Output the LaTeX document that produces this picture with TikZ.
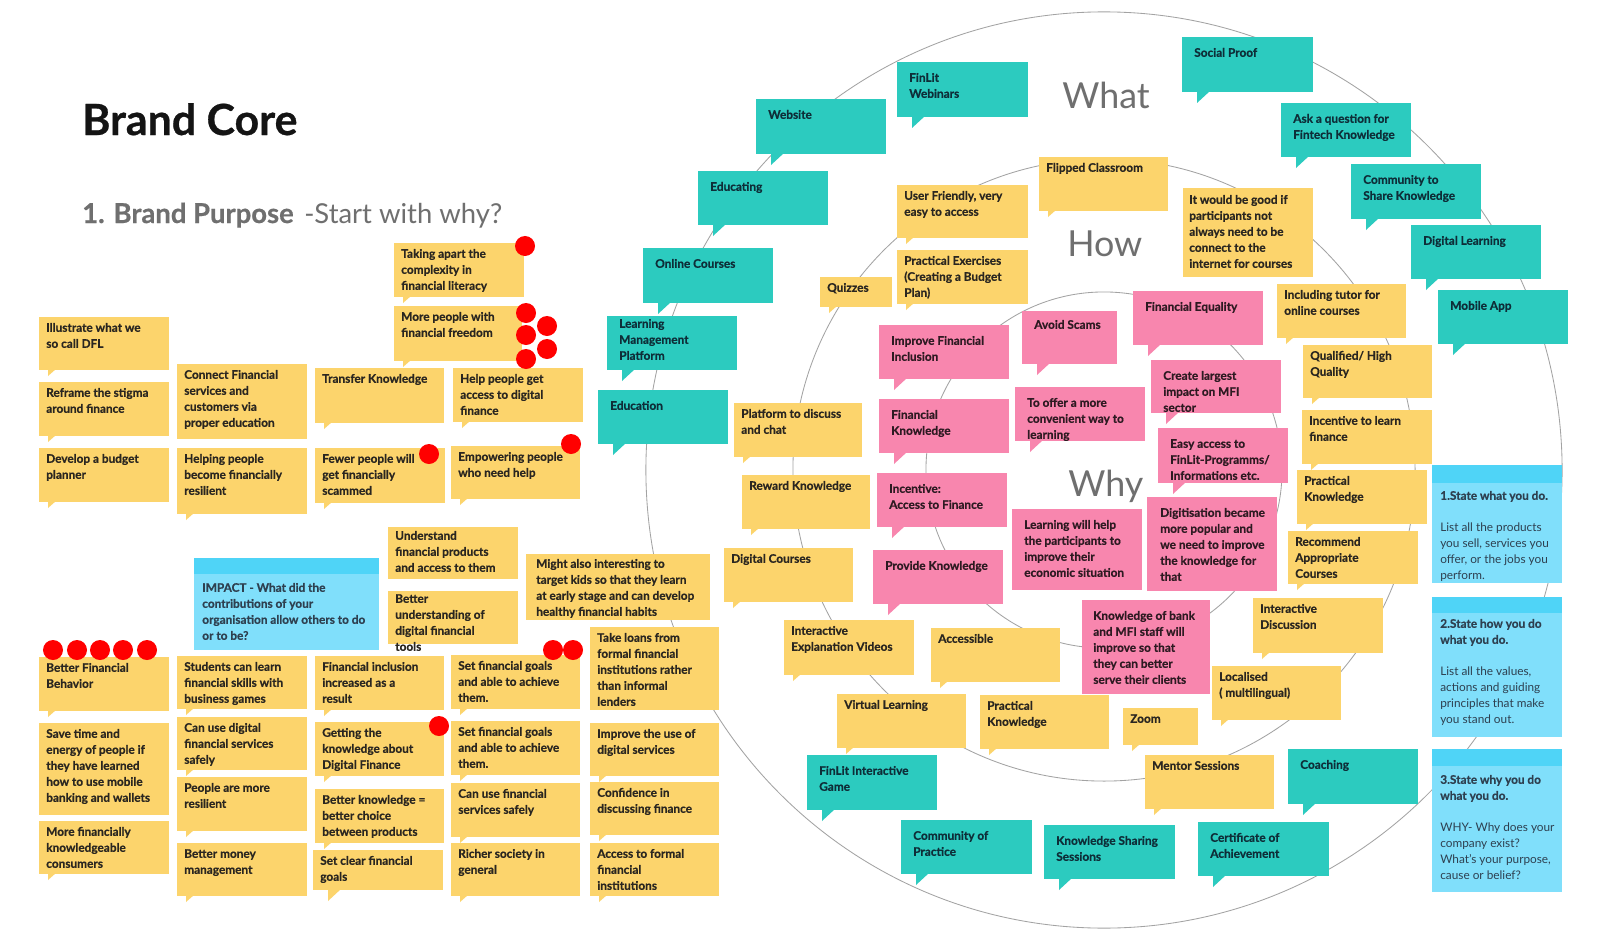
\documentclass[tikz,border=0pt]{standalone}
\usepackage{fontspec}
\setmainfont{Lato}[BoldFeatures={FakeBold=0.6}]
\definecolor{yel}{HTML}{FCD46C}
\definecolor{tea}{HTML}{2CCBBF}
\definecolor{pnk}{HTML}{F886AE}
\definecolor{yelink}{HTML}{2A2620}
\definecolor{teaink}{HTML}{0E2E38}
\definecolor{pnkink}{HTML}{2E1A22}
\definecolor{blu}{HTML}{80DFFB}
\definecolor{blustrip}{HTML}{4FD4F7}
\definecolor{bluink}{HTML}{2E4050}
\definecolor{dotred}{HTML}{FF0000}
\definecolor{ring}{HTML}{A3A3A3}
\definecolor{headgray}{HTML}{6F6F6F}

\newcommand{\notebody}[9]{%
  \node[notebox, fill=#6, minimum width=#4*0.025cm, minimum height=#5*0.025cm] (#1) at (#2,#3) {};
  \node[notetext, text=#6ink] (#1-t) at (#2+#7,#3+#8-2.75) {\rule{0pt}{8pt}#9};}
\newcommand{\snote}[9]{\notebody{#1}{#2}{#3}{#4}{#5}{#6}{#7}{#8}{#9}%
  \fill[#6] (#2+9,#3+#5-1) -- (#2+9,#3+#5+6) -- (#2+17,#3+#5-1) -- cycle;}
\newcommand{\bnote}[9]{\notebody{#1}{#2}{#3}{#4}{#5}{#6}{#7}{#8}{#9}%
  \fill[#6] (#2+15,#3+#5-1) -- (#2+15,#3+#5+11) -- (#2+28,#3+#5-1) -- cycle;}
\newcommand{\nnote}[9]{\notebody{#1}{#2}{#3}{#4}{#5}{#6}{#7}{#8}{#9}}
\newcommand{\bluecard}[8]{% name x y w h strip captop text
  \node[notebox, fill=blu, minimum width=#4*0.025cm, minimum height=#5*0.025cm] (#1) at (#2,#3) {};
  \fill[blustrip] (#2,#3) rectangle (#2+#4,#3+#6);
  \node[notetext, font=\fontsize{8.4pt}{11.38pt}\selectfont, text=bluink] (#1-t) at (#2+8,#3+#7-2.75) {\rule{0pt}{8pt}#8};}

\begin{document}
\begin{tikzpicture}[x=0.025cm,y=-0.025cm,
  notebox/.style={anchor=north west, inner sep=0pt, outer sep=0pt, draw=none},
  notetext/.style={anchor=north west, inner sep=0pt, align=left, font=\fontsize{8.4pt}{11.38pt}\selectfont\bfseries},
  ringline/.style={draw=ring, line width=0.6pt},
  big/.style={anchor=base west, inner sep=0pt},
  dot/.style={fill=dotred}]
\fill[white] (0,0) rectangle (1600,933);
\useasboundingbox (0,0) rectangle (1600,933);

% titles
\node[big, font=\fontsize{30.5pt}{36pt}\selectfont\bfseries, text=black!92] (title) at (82,135) {Brand Core};
\node[big, font=\fontsize{19.5pt}{23pt}\selectfont\bfseries, text=headgray] (purpose) at (82,223) {1. Brand Purpose};
\node[big, font=\fontsize{19.5pt}{23pt}\selectfont, text=headgray] (startwhy) at (304,223) {-Start with why?};

% rings
\coordinate (centre) at (1104,470);
\draw[ringline] (centre) circle[radius=11.45cm];
\draw[ringline] (centre) circle[radius=7.775cm];
\draw[ringline] (centre) circle[radius=4.45cm];

\node[big, font=\fontsize{25.5pt}{30pt}\selectfont, text=headgray] (what) at (1062,109) {What};
\node[big, font=\fontsize{25.5pt}{30pt}\selectfont, text=headgray] (how) at (1067,256) {How};
\node[big, font=\fontsize{25.5pt}{30pt}\selectfont, text=headgray] (why) at (1068,496) {Why};

% ---------- left block (purpose) ----------
\snote{taking}{394}{243}{130}{54}{yel}{7}{6}{Taking apart the\\complexity in\\financial literacy}
\snote{freedom}{394}{306}{128}{55}{yel}{7}{6}{More people with\\financial freedom}
\snote{illustrate}{39}{317}{130}{53}{yel}{7}{6}{Illustrate what we\\so call DFL}
\snote{reframe}{39}{382}{130}{54}{yel}{7}{6}{Reframe the stigma\\around finance}
\snote{budget}{39}{448}{130}{54}{yel}{7}{6}{Develop a budget\\planner}
\nnote{connect}{177}{364}{130}{75}{yel}{7}{6}{Connect Financial\\services and\\customers via\\proper education}
\snote{resilient}{177}{448}{130}{66}{yel}{7}{6}{Helping people\\become financially\\resilient}
\snote{transfer}{315}{368}{129}{55}{yel}{7}{6}{Transfer Knowledge}
\snote{scammed}{315}{448}{130}{55}{yel}{7}{6}{Fewer people will\\get financially\\scammed}
\snote{helpaccess}{453}{368}{130}{54}{yel}{7}{6}{Help people get\\access to digital\\finance}
\snote{empower}{451}{446}{129}{53}{yel}{7}{6}{Empowering people\\who need help}
\bluecard{impact}{194}{558}{185}{92}{16}{25}{\textbf{IMPACT - What did the}\\\textbf{contributions of your}\\\textbf{organisation allow others to do}\\\textbf{or to be?}}
\nnote{understand}{388}{527}{130}{52}{yel}{7}{4}{Understand\\financial products\\and access to them}
\nnote{betterund}{388}{591}{130}{53}{yel}{7}{3}{Better\\understanding of\\digital financial\\tools}
\nnote{kids}{526}{554}{184}{66}{yel}{10}{5}{Might also interesting to\\target kids so that they learn\\at early stage and can develop\\healthy financial habits}

% ---------- lower block (impact) ----------
\snote{behavior}{39}{657}{130}{54}{yel}{7}{6}{Better Financial\\Behavior}
\nnote{savetime}{39}{723}{130}{92}{yel}{7}{6}{Save time and\\energy of people if\\they have learned\\how to use mobile\\banking and wallets}
\snote{knowledgeable}{39}{821}{130}{53}{yel}{7}{6}{More financially\\knowledgeable\\consumers}
\snote{students}{177}{656}{130}{53}{yel}{7}{6}{Students can learn\\financial skills with\\business games}
\snote{digsafe}{177}{717}{130}{53}{yel}{7}{6}{Can use digital\\financial services\\safely}
\snote{moreres}{177}{777}{130}{54}{yel}{7}{6}{People are more\\resilient}
\snote{money}{177}{843}{130}{53}{yel}{7}{6}{Better money\\management}
\snote{inclusion}{315}{656}{129}{54}{yel}{7}{6}{Financial inclusion\\increased as a\\result}
\snote{gettingk}{315}{722}{129}{54}{yel}{7}{6}{Getting the\\knowledge about\\Digital Finance}
\snote{betterk}{315}{789}{129}{54}{yel}{7}{6}{Better knowledge =\\better choice\\between products}
\bnote{cleargoals}{313}{850}{130}{40}{yel}{7}{6}{Set clear financial\\goals}
\snote{goalsa}{451}{655}{129}{54}{yel}{7}{6}{Set financial goals\\and able to achieve\\them.}
\snote{goalsb}{451}{721}{129}{54}{yel}{7}{6}{Set financial goals\\and able to achieve\\them.}
\snote{finsafe}{451}{783}{129}{54}{yel}{7}{6}{Can use financial\\services safely}
\snote{richer}{451}{843}{129}{53}{yel}{7}{6}{Richer society in\\general}
\nnote{loans}{590}{627}{129}{83}{yel}{7}{6}{Take loans from\\formal financial\\institutions rather\\than informal\\lenders}
\snote{digserv}{590}{723}{129}{53}{yel}{7}{6}{Improve the use of\\digital services}
\snote{confidence}{590}{782}{129}{53}{yel}{7}{6}{Confidence in\\discussing finance}
\snote{formal}{590}{843}{129}{53}{yel}{7}{6}{Access to formal\\financial\\institutions}

% ---------- What (teal) ----------
\bnote{website}{756}{99}{130}{55}{tea}{12}{11}{Website}
\bnote{webinars}{897}{62}{131}{55}{tea}{12}{11}{FinLit\\Webinars}
\bnote{educating}{698}{171}{130}{54}{tea}{12}{11}{Educating}
\bnote{online}{643}{248}{130}{55}{tea}{12}{11}{Online Courses}
\bnote{lms}{607}{316}{130}{54}{tea}{12}{3}{Learning\\Management\\Platform}
\bnote{education}{598}{390}{130}{54}{tea}{12}{11}{Education}
\bnote{socialproof}{1182}{37}{131}{55}{tea}{12}{11}{Social Proof}
\bnote{askq}{1281}{103}{130}{54}{tea}{12}{11}{Ask a question for\\Fintech Knowledge}
\bnote{community}{1351}{164}{130}{55}{tea}{12}{11}{Community to\\Share Knowledge}
\bnote{diglearning}{1411}{225}{130}{54}{tea}{12}{11}{Digital Learning}
\bnote{mobile}{1438}{290}{130}{54}{tea}{12}{11}{Mobile App}
\bnote{game}{807}{755}{130}{55}{tea}{12}{11}{FinLit Interactive\\Game}
\bnote{cop}{901}{820}{131}{54}{tea}{12}{11}{Community of\\Practice}
\bnote{kss}{1044}{825}{131}{54}{tea}{12}{11}{Knowledge Sharing\\Sessions}
\bnote{coaching}{1288}{749}{130}{55}{tea}{12}{11}{Coaching}
\bnote{certificate}{1198}{822}{131}{54}{tea}{12}{11}{Certificate of\\Achievement}

% ---------- How (yellow) ----------
\snote{flipped}{1039}{157}{129}{54}{yel}{7}{6}{Flipped Classroom}
\snote{userfriendly}{897}{185}{131}{53}{yel}{7}{6}{User Friendly, very\\easy to access}
\snote{exercises}{897}{250}{131}{54}{yel}{7}{6}{Practical Exercises\\(Creating a Budget\\Plan)}
\snote{quizzes}{820}{277}{72}{30}{yel}{7}{6}{Quizzes}
\nnote{goodif}{1183}{188}{130}{89}{yel}{6}{7}{It would be good if\\participants not\\always need to be\\connect to the\\internet for courses}
\snote{tutor}{1277}{284}{129}{54}{yel}{7}{6}{Including tutor for\\online courses}
\snote{qualified}{1303}{345}{129}{53}{yel}{7}{6}{Qualified/ High\\Quality}
\snote{incentivelearn}{1302}{410}{130}{54}{yel}{7}{6}{Incentive to learn\\finance}
\snote{practicala}{1297}{470}{130}{54}{yel}{7}{6}{Practical\\Knowledge}
\snote{recommend}{1288}{531}{130}{53}{yel}{7}{6}{Recommend\\Appropriate\\Courses}
\snote{discussion}{1253}{598}{130}{55}{yel}{7}{6}{Interactive\\Discussion}
\snote{localised}{1212}{666}{129}{54}{yel}{7}{6}{Localised\\( multilingual)}
\snote{mentor}{1145}{755}{129}{54}{yel}{7}{6}{Mentor Sessions}
\snote{zoom}{1123}{708}{75}{37}{yel}{7}{6}{Zoom}
\snote{practicalb}{980}{695}{129}{54}{yel}{7}{6}{Practical\\Knowledge}
\snote{virtual}{837}{694}{129}{54}{yel}{7}{6}{Virtual Learning}
\snote{accessible}{931}{628}{129}{54}{yel}{7}{6}{Accessible}
\snote{videos}{784}{620}{130}{55}{yel}{7}{6}{Interactive\\Explanation Videos}
\snote{digcourses}{724}{548}{129}{54}{yel}{7}{6}{Digital Courses}
\snote{reward}{742}{475}{128}{54}{yel}{7}{6}{Reward Knowledge}
\snote{platform}{734}{403}{128}{54}{yel}{7}{6}{Platform to discuss\\and chat}

% ---------- Why (pink) ----------
\bnote{equality}{1133}{291}{130}{54}{pnk}{12}{11}{Financial Equality}
\bnote{inclusionp}{879}{325}{130}{54}{pnk}{12}{11}{Improve Financial\\Inclusion}
\bnote{scams}{1022}{311}{95}{53}{pnk}{12}{9}{Avoid Scams}
\bnote{finknow}{879}{399}{130}{54}{pnk}{12}{11}{Financial\\Knowledge}
\bnote{convenient}{1015}{387}{130}{54}{pnk}{12}{11}{To offer a more\\convenient way to\\learning}
\bnote{largest}{1151}{360}{130}{53}{pnk}{12}{11}{Create largest\\impact on MFI\\sector}
\bnote{easy}{1158}{428}{130}{55}{pnk}{12}{11}{Easy access to\\FinLit-Programms/\\Informations etc.}
\bnote{incentivefin}{877}{473}{130}{54}{pnk}{12}{11}{Incentive:\\Access to Finance}
\bnote{provide}{873}{550}{130}{54}{pnk}{12}{11}{Provide Knowledge}
\nnote{learninghelp}{1012}{509}{130}{81}{pnk}{12}{11}{Learning will help\\the participants to\\improve their\\economic situation}
\nnote{digitisation}{1147}{497}{130}{94}{pnk}{13}{11}{Digitisation became\\more popular and\\we need to improve\\the knowledge for\\that}
\nnote{bankstaff}{1082}{600}{128}{94}{pnk}{11}{11}{Knowledge of bank\\and MFI staff will\\improve so that\\they can better\\serve their clients}

% ---------- state cards ----------
\bluecard{statea}{1432}{465}{130}{118}{18}{26}{\textbf{1.State what you do.}\\[11.38pt]List all the products\\you sell, services you\\offer, or the jobs you\\perform.}
\bluecard{stateb}{1432}{597}{130}{140}{16}{22}{\textbf{2.State how you do}\\\textbf{what you do.}\\[11.38pt]List all the values,\\actions and guiding\\principles that make\\you stand out.}
\bluecard{statec}{1432}{749}{130}{143}{17}{26}{\textbf{3.State why you do}\\\textbf{what you do.}\\[11.38pt]WHY- Why does your\\company exist?\\What's your purpose,\\cause or belief?}

% ---------- votes ----------
\foreach \p in {(525,246),(526,313),(547,326),(526,335),(547,349),(526,359),(429,454),(571,444),(53,650),(77,650),(100,650),(123,650),(147,650),(553,650),(573,650),(439,726)}
  \fill[dot] \p circle[radius=0.25cm];
\end{tikzpicture}
\end{document}
